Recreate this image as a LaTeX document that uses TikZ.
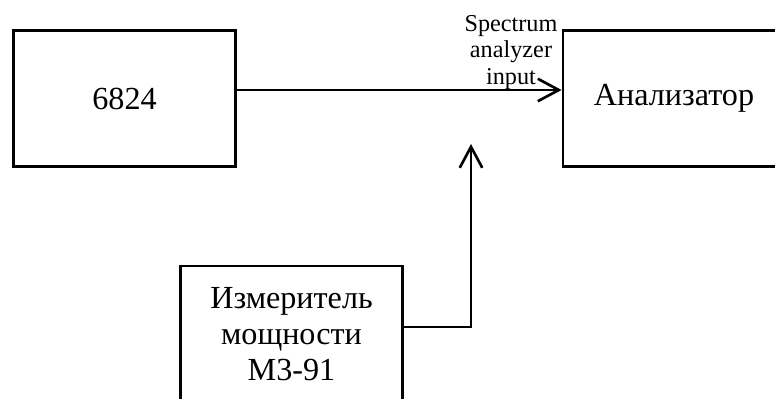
\documentclass[tikz,border=0pt]{standalone}
\usepackage{fontspec}
\setmainfont{Liberation Serif}
\usetikzlibrary{arrows.meta,positioning}

\begin{document}
\begin{tikzpicture}[
    blk/.style={draw, line width=1.6pt, minimum width=4.44cm, minimum height=2.72cm,
      inner sep=0pt, align=center, font=\fontsize{18.3}{20.5}\selectfont},
    lbl/.style={inner sep=0pt, align=center, font=\fontsize{13.8}{15.2}\selectfont},
    arr/.style={line width=1.5pt, -{Straight Barb[length=0.42cm,width=0.45cm,line width=1.5pt]}}]
  \useasboundingbox (0,0) rectangle (15.5,-7.98);
  % blocks
  \node[blk] (gen) at (2.49,-1.97) {6824};
  \node[blk] (ana) at (13.48,-1.97) {Анализатор};
  \node[blk] (pm)  at (5.83,-6.68) {Измеритель\\мощности\\М3-91};
  % label
  \node[lbl] (inlbl) at (10.22,-1.05) {Spectrum\\analyzer\\input};
  % connections
  \coordinate (inp) at (9.42,-2.88);
  \draw[arr] ([yshift=0.17cm]gen.east) -- ([yshift=0.17cm]ana.west);
  \draw[arr] ([yshift=0.14cm]pm.east) -| (inp);
\end{tikzpicture}
\end{document}
